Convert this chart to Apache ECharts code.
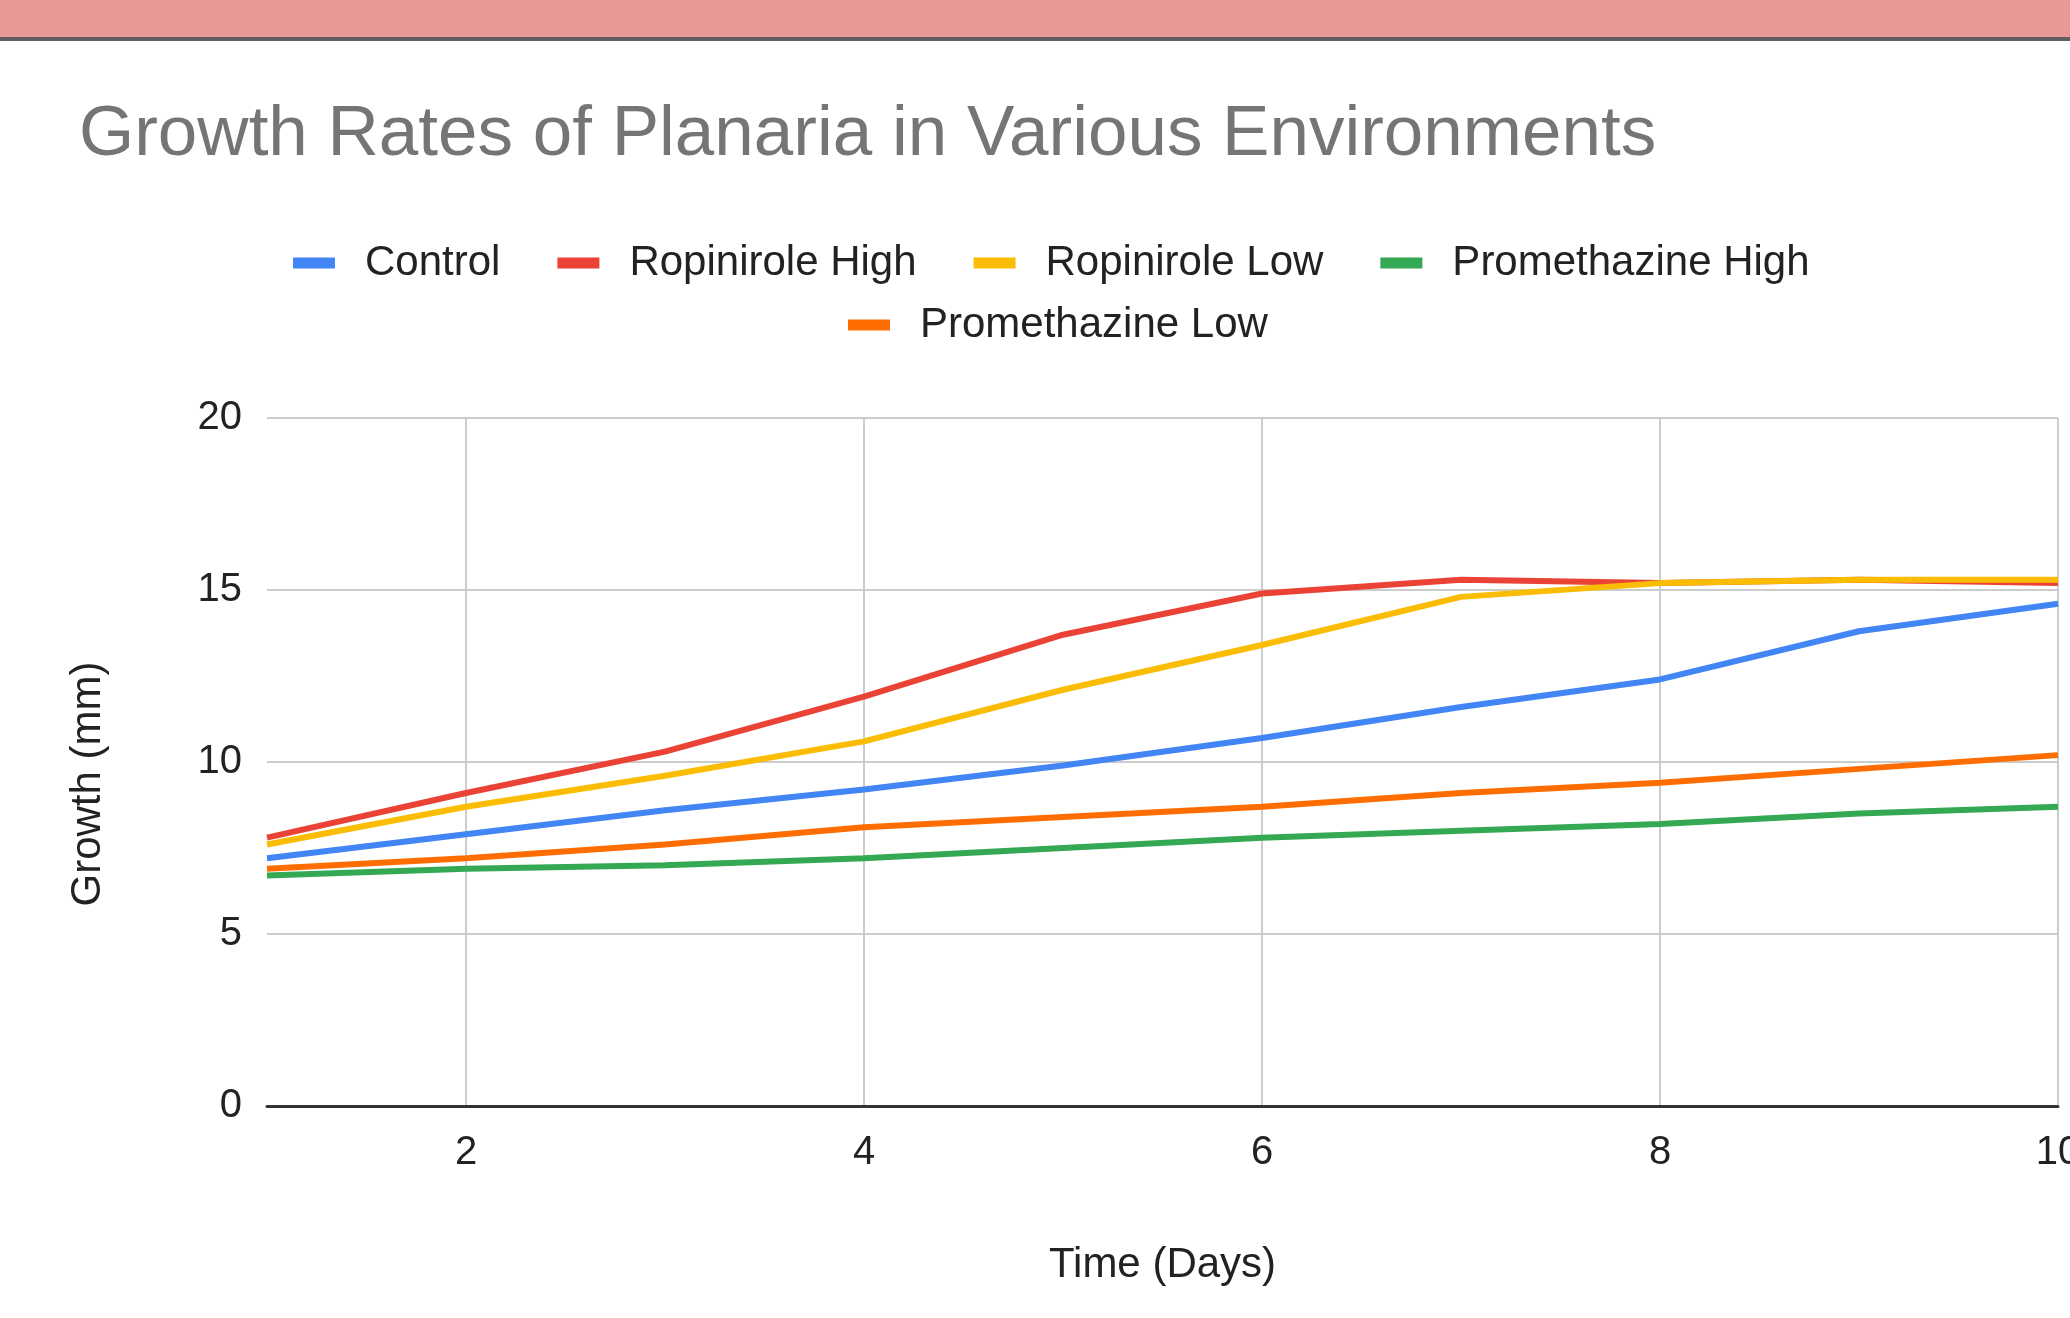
<!DOCTYPE html>
<html>
<head>
<meta charset="utf-8">
<title>Growth Rates of Planaria</title>
<script src="https://cdn.jsdelivr.net/npm/echarts@6/dist/echarts.min.js"></script>
<style>
  html, body { margin: 0; padding: 0; background: #fff; }
  #chart { width: 2070px; height: 1318px; }
</style>
</head>
<body>
<div id="chart"></div>
<script>
// days of the experiment
var days = [1, 2, 3, 4, 5, 6, 7, 8, 9, 10];

// growth in mm
var control         = [7.2, 7.9, 8.6, 9.2, 9.9, 10.7, 11.6, 12.4, 13.8, 14.6];
var ropiniroleHigh  = [7.8, 9.1, 10.3, 11.9, 13.7, 14.9, 15.3, 15.2, 15.3, 15.2];
var ropiniroleLow   = [7.6, 8.7, 9.6, 10.6, 12.1, 13.4, 14.8, 15.2, 15.3, 15.3];
var promethazineHigh = [6.7, 6.9, 7.0, 7.2, 7.5, 7.8, 8.0, 8.2, 8.5, 8.7];
var promethazineLow  = [6.9, 7.2, 7.6, 8.1, 8.4, 8.7, 9.1, 9.4, 9.8, 10.2];

var seriesNames = ['Control', 'Ropinirole High', 'Ropinirole Low', 'Promethazine High', 'Promethazine Low'];
var seriesValues = [control, ropiniroleHigh, ropiniroleLow, promethazineHigh, promethazineLow];
var colors = ['#4285f4', '#ea4335', '#fbbc04', '#34a853', '#ff6d01'];

var yTicks = [0, 5, 10, 15, 20];

var font = "'Liberation Sans', Arial, sans-serif";

function pairs(vals) {
    var out = [];
    for (var i = 0; i < days.length; i++) {
        out.push([days[i], vals[i]]);
    }
    return out;
}

var chart = echarts.init(document.getElementById('chart'));

var series = [];
for (var i = 0; i < seriesNames.length; i++) {
    series.push({
        name: seriesNames[i],
        type: 'line',
        data: pairs(seriesValues[i]),
        showSymbol: false,
        symbol: 'none',
        lineStyle: { width: 6, color: colors[i] },
        itemStyle: { color: colors[i] },
        z: 3 + i
    });
}

var legendCommon = {
    orient: 'horizontal',
    icon: 'rect',
    padding: 0,
    itemWidth: 42,
    itemHeight: 11,
    itemGap: 57,
    textStyle: {
        fontFamily: font,
        fontSize: 42,
        color: '#222',
        padding: [0, 0, 0, 25]
    }
};

var option = {
    animation: false,
    backgroundColor: '#fff',
    color: colors,
    title: {
        text: 'Growth Rates of Planaria in Various Environments',
        left: 74,
        top: 95,
        textStyle: {
            fontFamily: font,
            fontSize: 71,
            fontWeight: 'normal',
            color: '#757575'
        }
    },
    graphic: [
        {
            type: 'rect',
            left: 0, top: 0,
            shape: { width: 2070, height: 37 },
            style: { fill: '#e99898' },
            z: 100
        },
        {
            type: 'rect',
            left: 0, top: 37,
            shape: { width: 2070, height: 4 },
            style: { fill: '#5f5f5f' },
            z: 100
        }
    ],
    legend: [
        Object.assign({}, legendCommon, {
            left: 293,
            top: 242,
            data: seriesNames.slice(0, 4)
        }),
        Object.assign({}, legendCommon, {
            left: 848,
            top: 304,
            data: seriesNames.slice(4)
        })
    ],
    grid: {
        left: 267,
        right: 12,
        top: 418,
        bottom: 212,
        containLabel: false,
        outerBoundsMode: 'none'
    },
    xAxis: {
        type: 'value',
        min: days[0],
        max: days[days.length - 1],
        splitNumber: 5,
        name: 'Time (Days)',
        nameLocation: 'middle',
        nameGap: 138,
        nameTextStyle: { fontFamily: font, fontSize: 42, color: '#222' },
        axisLine: { show: true, onZero: false, lineStyle: { color: '#333', width: 3 } },
        axisTick: { show: false },
        axisLabel: {
            fontFamily: font,
            fontSize: 40,
            color: '#222',
            margin: 27,
            showMinLabel: false
        },
        splitLine: {
            show: true,
            showMinLine: false,
            lineStyle: { color: '#cccccc', width: 2 }
        }
    },
    yAxis: {
        type: 'value',
        min: yTicks[0],
        max: yTicks[yTicks.length - 1],
        interval: yTicks[1] - yTicks[0],
        name: 'Growth (mm)',
        nameLocation: 'middle',
        nameGap: 158,
        nameTextStyle: { fontFamily: font, fontSize: 42, color: '#222', padding: [0, 44, 0, 0] },
        axisLine: { show: false },
        axisTick: { show: false },
        axisLabel: {
            fontFamily: font,
            fontSize: 40,
            color: '#222',
            margin: 25
        },
        splitLine: { show: true, lineStyle: { color: '#cccccc', width: 2 } }
    },
    series: series
};

chart.setOption(option);
</script>
</body>
</html>
